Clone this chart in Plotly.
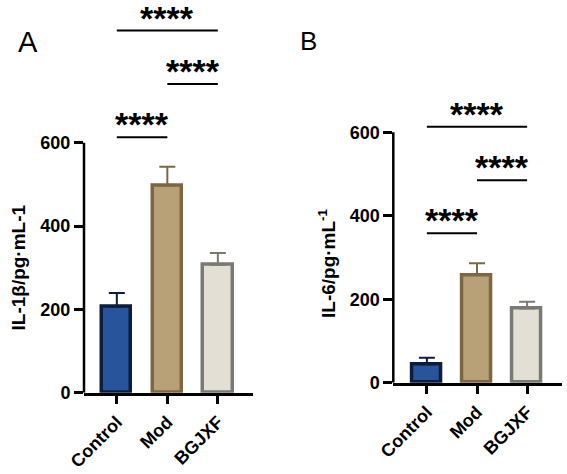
import plotly.graph_objects as go

# ---- data ----
groups = ["Control", "Mod", "BGJXF"]
il1b_mean = [206, 497, 307]
il1b_err = [33, 45, 28]
il6_mean = [44, 258, 178]
il6_err = [16, 28, 16]
# significance brackets: (start group index, end group index, height, label)
il1b_sig = [(0, 1, 613, "****"), (1, 2, 741, "****"), (0, 2, 869, "****")]
il6_sig = [(0, 1, 358, "****"), (1, 2, 485, "****"), (0, 2, 613, "****")]
yticks = [0, 200, 400, 600]

fills = ["#27549b", "#b9a177", "#e3dfd4"]
edges = ["#0e1d3c", "#7c6742", "#7a7a74"]

W, H = 567, 474
FONT = "Liberation Sans, Arial, sans-serif"

fig = go.Figure()

# panel geometry (pixels)
panels = [
    dict(x="x", y="y", xa="xaxis", ya="yaxis", left=84, right=252.7, xr=[-0.65, 2.69],
         zero=392.7, yr=[0, 900], ppu=250 / 600, mean=il1b_mean, err=il1b_err, sig=il1b_sig),
    dict(x="x2", y="y2", xa="xaxis2", ya="yaxis2", left=393.3, right=561.7, xr=[-0.67, 2.69],
         zero=382.7, yr=[0, 700], ppu=250.5 / 600, mean=il6_mean, err=il6_err, sig=il6_sig),
]

shapes = []
annotations = []
for p in panels:
    for i, g in enumerate(groups):
        fig.add_trace(go.Bar(
            x=[i], y=[p["mean"][i]], width=0.58,
            marker=dict(color=fills[i], line=dict(color=edges[i], width=3.5)),
            error_y=dict(type="data", array=[p["err"][i]], arrayminus=[0], symmetric=False,
                         color=edges[i], thickness=2, width=8),
            xaxis=p["x"], yaxis=p["y"], showlegend=False,
        ))
    top_px = p["zero"] - (p["yr"][1] - p["yr"][0]) * p["ppu"]
    fig.layout[p["xa"]] = dict(
        domain=[p["left"] / W, p["right"] / W], range=p["xr"],
        tickmode="array", tickvals=[0, 1, 2], ticktext=groups,
        showline=True, linecolor="black", linewidth=2.5,
        ticks="outside", ticklen=9, tickwidth=2.5, tickcolor="black",
        tickangle=-45, tickfont=dict(family=FONT, size=18, color="black", weight="bold"),
        showgrid=False, zeroline=False, anchor=p["y"], fixedrange=True, automargin=False,
    )
    fig.layout[p["ya"]] = dict(
        domain=[1 - p["zero"] / H, 1 - top_px / H], range=p["yr"],
        tickmode="array", tickvals=yticks,
        showline=False, ticks="outside", ticklen=9, tickwidth=2.5, tickcolor="black",
        tickfont=dict(family=FONT, size=18, color="black", weight="bold"),
        showgrid=False, zeroline=False, anchor=p["x"], fixedrange=True, automargin=False,
    )
    # y axis line only 0..600
    shapes.append(dict(type="line", xref=p["x"] + " domain", yref=p["y"],
                       x0=0, x1=0, y0=0, y1=600, line=dict(color="black", width=2.5)))
    for (a, b, h, lab) in p["sig"]:
        shapes.append(dict(type="line", xref=p["x"], yref=p["y"], x0=a, x1=b, y0=h, y1=h,
                           line=dict(color="black", width=2)))
        annotations.append(dict(xref=p["x"], yref=p["y"], x=(a + b) / 2, y=h, text=lab,
                                showarrow=False, yanchor="bottom", yshift=-8,
                                font=dict(family=FONT, size=34, color="black", weight="bold")))

annotations += [
    dict(xref="paper", yref="paper", x=28 / W, y=1 - 42.5 / H, text="A", showarrow=False,
         xanchor="center", yanchor="middle", font=dict(family=FONT, size=29, color="black")),
    dict(xref="paper", yref="paper", x=308 / W, y=1 - 41 / H, text="B", showarrow=False,
         xanchor="center", yanchor="middle", font=dict(family=FONT, size=26, color="black")),
    dict(xref="paper", yref="paper", x=17.5 / W, y=1 - 268 / H, text="IL-1β/pg·mL-1",
         textangle=-90, showarrow=False, xanchor="center", yanchor="middle",
         font=dict(family=FONT, size=19, color="black", weight="bold")),
    dict(xref="paper", yref="paper", x=327 / W, y=1 - 263 / H, text="IL-6/pg·mL<sup>-1</sup>",
         textangle=-90, showarrow=False, xanchor="center", yanchor="middle",
         font=dict(family=FONT, size=19, color="black", weight="bold")),
]

fig.update_layout(
    width=W, height=H, margin=dict(l=0, r=0, t=0, b=0),
    paper_bgcolor="white", plot_bgcolor="white",
    shapes=shapes, annotations=annotations, bargap=0, barmode="overlay",
)

fig.write_html("out.html")
